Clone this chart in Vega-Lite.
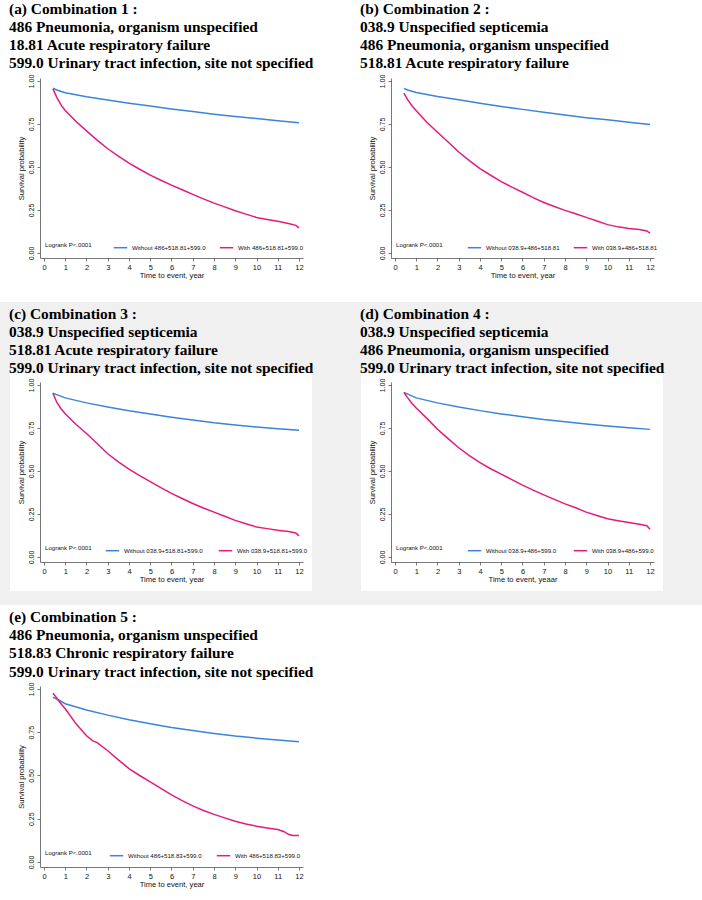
{
  "$schema": "https://vega.github.io/schema/vega-lite/v6.json",
  "background": "#f0f0f0",
  "padding": 0,
  "bounds": "full",
  "spacing": 4,
  "resolve": {"scale": {"x": "independent", "y": "independent", "color": "independent"}, "axis": {"x": "independent", "y": "independent"}, "legend": {"color": "independent"}},
  "config": {
    "view": {"stroke": null},
    "axis": {"labelFont": "Liberation Sans", "titleFont": "Liberation Sans", "titleFontWeight": "normal", "labelColor": "#111", "titleColor": "#111", "domainColor": "#555", "tickColor": "#555", "domainWidth": 0.8, "tickWidth": 0.8, "grid": false, "labelFlush": false, "labelOverlap": false, "tickSize": 3},
    "axisX": {"labelFontSize": 7.5, "titleFontSize": 7.6, "labelPadding": 2.5, "titlePadding": 0.5},
    "axisY": {"labelFontSize": 7, "titleFontSize": 7.6, "labelAngle": 270, "labelAlign": "center", "labelBaseline": "alphabetic", "labelPadding": 3.5, "titlePadding": 2.5},
    "legend": {"orient": "none", "direction": "horizontal", "titleOrient": "left", "labelFont": "Liberation Sans", "titleFont": "Liberation Sans", "labelFontSize": 6.1, "titleFontSize": 6.1, "titleFontWeight": "normal", "labelColor": "#111", "titleColor": "#111", "symbolType": "stroke", "symbolSize": 180, "symbolStrokeWidth": 1.5, "labelOffset": 4, "columnPadding": 11, "padding": 0},
    "title": {"font": "Liberation Serif", "fontSize": 15.4, "fontWeight": "bold", "color": "black", "lineHeight": 18.2, "anchor": "start", "frame": "group", "orient": "top"},
    "line": {"strokeWidth": 1.5}
  },
  "vconcat": [
    {
      "bounds": "flush",
      "spacing": 0,
      "resolve": {"scale": {"x": "independent", "y": "independent", "color": "independent"}, "axis": {"x": "independent", "y": "independent"}, "legend": {"color": "independent"}},
      "hconcat": [
        {
          "width": 351, "height": 302,
          "view": {"fill": "white", "stroke": null},
          "title": {"text": ["(a) Combination 1 :", "486 Pneumonia, organism unspecified", "18.81 Acute respiratory failure", "599.0 Urinary tract infection, site not specified"], "baseline": "alphabetic", "offset": -72.5, "dx": 9, "dy": 11},
          "data": {"values": [
            {"t": 0.42, "s": 0.958, "g": "Without 486+518.81+599.0"},
            {"t": 0.6, "s": 0.948, "g": "Without 486+518.81+599.0"},
            {"t": 1, "s": 0.932, "g": "Without 486+518.81+599.0"},
            {"t": 2, "s": 0.908, "g": "Without 486+518.81+599.0"},
            {"t": 3, "s": 0.89, "g": "Without 486+518.81+599.0"},
            {"t": 4, "s": 0.871, "g": "Without 486+518.81+599.0"},
            {"t": 5, "s": 0.854, "g": "Without 486+518.81+599.0"},
            {"t": 6, "s": 0.837, "g": "Without 486+518.81+599.0"},
            {"t": 7, "s": 0.822, "g": "Without 486+518.81+599.0"},
            {"t": 8, "s": 0.807, "g": "Without 486+518.81+599.0"},
            {"t": 9, "s": 0.794, "g": "Without 486+518.81+599.0"},
            {"t": 10, "s": 0.782, "g": "Without 486+518.81+599.0"},
            {"t": 11, "s": 0.769, "g": "Without 486+518.81+599.0"},
            {"t": 12, "s": 0.757, "g": "Without 486+518.81+599.0"},
            {"t": 0.42, "s": 0.955, "g": "With 486+518.81+599.0"},
            {"t": 0.6, "s": 0.905, "g": "With 486+518.81+599.0"},
            {"t": 0.82, "s": 0.857, "g": "With 486+518.81+599.0"},
            {"t": 1, "s": 0.828, "g": "With 486+518.81+599.0"},
            {"t": 1.5, "s": 0.766, "g": "With 486+518.81+599.0"},
            {"t": 2, "s": 0.71, "g": "With 486+518.81+599.0"},
            {"t": 2.5, "s": 0.656, "g": "With 486+518.81+599.0"},
            {"t": 3, "s": 0.606, "g": "With 486+518.81+599.0"},
            {"t": 3.5, "s": 0.563, "g": "With 486+518.81+599.0"},
            {"t": 4, "s": 0.523, "g": "With 486+518.81+599.0"},
            {"t": 4.5, "s": 0.487, "g": "With 486+518.81+599.0"},
            {"t": 5, "s": 0.453, "g": "With 486+518.81+599.0"},
            {"t": 5.5, "s": 0.423, "g": "With 486+518.81+599.0"},
            {"t": 6, "s": 0.395, "g": "With 486+518.81+599.0"},
            {"t": 6.5, "s": 0.368, "g": "With 486+518.81+599.0"},
            {"t": 7, "s": 0.341, "g": "With 486+518.81+599.0"},
            {"t": 7.5, "s": 0.315, "g": "With 486+518.81+599.0"},
            {"t": 8, "s": 0.29, "g": "With 486+518.81+599.0"},
            {"t": 8.5, "s": 0.268, "g": "With 486+518.81+599.0"},
            {"t": 9, "s": 0.246, "g": "With 486+518.81+599.0"},
            {"t": 9.5, "s": 0.226, "g": "With 486+518.81+599.0"},
            {"t": 10, "s": 0.207, "g": "With 486+518.81+599.0"},
            {"t": 10.5, "s": 0.195, "g": "With 486+518.81+599.0"},
            {"t": 11, "s": 0.184, "g": "With 486+518.81+599.0"},
            {"t": 11.5, "s": 0.172, "g": "With 486+518.81+599.0"},
            {"t": 11.85, "s": 0.161, "g": "With 486+518.81+599.0"},
            {"t": 12, "s": 0.146, "g": "With 486+518.81+599.0"}
          ]},
          "mark": {"type": "line"},
          "encoding": {
            "x": {"field": "t", "type": "quantitative", "scale": {"domain": [-0.188, 12.188], "range": [40, 303], "nice": false, "zero": false}, "axis": {"values": [0,1,2,3,4,5,6,7,8,9,10,11,12], "format": "d", "title": "Time to event, year", "offset": -44}},
            "y": {"field": "s", "type": "quantitative", "scale": {"domain": [-0.029, 1.0174], "range": [258, 78], "nice": false, "zero": false}, "axis": {"values": [0, 0.25, 0.5, 0.75, 1], "format": ".2f", "title": "Survival probability", "offset": -40}},
            "color": {"field": "g", "type": "nominal", "scale": {"domain": ["Without 486+518.81+599.0", "With 486+518.81+599.0"], "range": ["#3a84da", "#e41b7a"]}, "legend": {"title": "Logrank P<.0001", "legendX": 45, "legendY": 240, "titlePadding": 21, "columnPadding": 10}}
          }
        },
        {
          "width": 351, "height": 302,
          "view": {"fill": "white", "stroke": null},
          "title": {"text": ["(b) Combination 2 :", "038.9 Unspecified septicemia", "486 Pneumonia, organism unspecified", "518.81 Acute respiratory failure"], "baseline": "alphabetic", "offset": -72.5, "dx": 9, "dy": 11},
          "data": {"values": [
            {"t": 0.42, "s": 0.957, "g": "Without 038.9+486+518.81"},
            {"t": 0.6, "s": 0.948, "g": "Without 038.9+486+518.81"},
            {"t": 1, "s": 0.933, "g": "Without 038.9+486+518.81"},
            {"t": 2, "s": 0.91, "g": "Without 038.9+486+518.81"},
            {"t": 3, "s": 0.891, "g": "Without 038.9+486+518.81"},
            {"t": 4, "s": 0.871, "g": "Without 038.9+486+518.81"},
            {"t": 5, "s": 0.852, "g": "Without 038.9+486+518.81"},
            {"t": 6, "s": 0.835, "g": "Without 038.9+486+518.81"},
            {"t": 7, "s": 0.818, "g": "Without 038.9+486+518.81"},
            {"t": 8, "s": 0.802, "g": "Without 038.9+486+518.81"},
            {"t": 9, "s": 0.787, "g": "Without 038.9+486+518.81"},
            {"t": 10, "s": 0.774, "g": "Without 038.9+486+518.81"},
            {"t": 11, "s": 0.76, "g": "Without 038.9+486+518.81"},
            {"t": 12, "s": 0.747, "g": "Without 038.9+486+518.81"},
            {"t": 0.42, "s": 0.929, "g": "With 038.9+486+518.81"},
            {"t": 0.6, "s": 0.89, "g": "With 038.9+486+518.81"},
            {"t": 0.8, "s": 0.856, "g": "With 038.9+486+518.81"},
            {"t": 1, "s": 0.827, "g": "With 038.9+486+518.81"},
            {"t": 1.5, "s": 0.76, "g": "With 038.9+486+518.81"},
            {"t": 2, "s": 0.702, "g": "With 038.9+486+518.81"},
            {"t": 2.5, "s": 0.645, "g": "With 038.9+486+518.81"},
            {"t": 3, "s": 0.587, "g": "With 038.9+486+518.81"},
            {"t": 3.5, "s": 0.537, "g": "With 038.9+486+518.81"},
            {"t": 4, "s": 0.491, "g": "With 038.9+486+518.81"},
            {"t": 4.5, "s": 0.452, "g": "With 038.9+486+518.81"},
            {"t": 5, "s": 0.415, "g": "With 038.9+486+518.81"},
            {"t": 5.5, "s": 0.383, "g": "With 038.9+486+518.81"},
            {"t": 6, "s": 0.353, "g": "With 038.9+486+518.81"},
            {"t": 6.5, "s": 0.322, "g": "With 038.9+486+518.81"},
            {"t": 7, "s": 0.294, "g": "With 038.9+486+518.81"},
            {"t": 7.5, "s": 0.27, "g": "With 038.9+486+518.81"},
            {"t": 8, "s": 0.248, "g": "With 038.9+486+518.81"},
            {"t": 8.5, "s": 0.228, "g": "With 038.9+486+518.81"},
            {"t": 9, "s": 0.207, "g": "With 038.9+486+518.81"},
            {"t": 9.5, "s": 0.186, "g": "With 038.9+486+518.81"},
            {"t": 10, "s": 0.165, "g": "With 038.9+486+518.81"},
            {"t": 10.5, "s": 0.152, "g": "With 038.9+486+518.81"},
            {"t": 11, "s": 0.142, "g": "With 038.9+486+518.81"},
            {"t": 11.5, "s": 0.136, "g": "With 038.9+486+518.81"},
            {"t": 11.85, "s": 0.128, "g": "With 038.9+486+518.81"},
            {"t": 12, "s": 0.115, "g": "With 038.9+486+518.81"}
          ]},
          "mark": {"type": "line"},
          "encoding": {
            "x": {"field": "t", "type": "quantitative", "scale": {"domain": [-0.188, 12.188], "range": [40, 303], "nice": false, "zero": false}, "axis": {"values": [0,1,2,3,4,5,6,7,8,9,10,11,12], "format": "d", "title": "Time to event, year", "offset": -44}},
            "y": {"field": "s", "type": "quantitative", "scale": {"domain": [-0.029, 1.0174], "range": [258, 78], "nice": false, "zero": false}, "axis": {"values": [0, 0.25, 0.5, 0.75, 1], "format": ".2f", "title": "Survival probability", "offset": -40}},
            "color": {"field": "g", "type": "nominal", "scale": {"domain": ["Without 038.9+486+518.81", "With 038.9+486+518.81"], "range": ["#3a84da", "#e41b7a"]}, "legend": {"title": "Logrank P<.0001", "legendX": 45, "legendY": 240, "titlePadding": 24, "columnPadding": 10}}
          }
        }
      ]
    },
    {
      "bounds": "flush",
      "spacing": 0,
      "resolve": {"scale": {"x": "independent", "y": "independent", "color": "independent"}, "axis": {"x": "independent", "y": "independent"}, "legend": {"color": "independent"}},
      "hconcat": [
        {
          "width": 10, "height": 228,
          "view": {"fill": "#f0f0f0", "stroke": null},
          "data": {"values": []},
          "mark": {"type": "point"}
        },
        {
          "width": 302, "height": 218,
          "view": {"fill": "white", "stroke": null},
          "title": {"text": ["(c) Combination 3 :", "038.9 Unspecified septicemia", "518.81 Acute respiratory failure", "599.0 Urinary tract infection, site not specified"], "baseline": "alphabetic", "offset": -15.5, "dx": -1},
          "data": {"values": [
            {"t": 0.42, "s": 0.952, "g": "Without 038.9+518.81+599.0"},
            {"t": 0.6, "s": 0.944, "g": "Without 038.9+518.81+599.0"},
            {"t": 1, "s": 0.925, "g": "Without 038.9+518.81+599.0"},
            {"t": 2, "s": 0.896, "g": "Without 038.9+518.81+599.0"},
            {"t": 3, "s": 0.872, "g": "Without 038.9+518.81+599.0"},
            {"t": 4, "s": 0.85, "g": "Without 038.9+518.81+599.0"},
            {"t": 5, "s": 0.831, "g": "Without 038.9+518.81+599.0"},
            {"t": 6, "s": 0.813, "g": "Without 038.9+518.81+599.0"},
            {"t": 7, "s": 0.797, "g": "Without 038.9+518.81+599.0"},
            {"t": 8, "s": 0.781, "g": "Without 038.9+518.81+599.0"},
            {"t": 9, "s": 0.768, "g": "Without 038.9+518.81+599.0"},
            {"t": 10, "s": 0.756, "g": "Without 038.9+518.81+599.0"},
            {"t": 11, "s": 0.746, "g": "Without 038.9+518.81+599.0"},
            {"t": 12, "s": 0.737, "g": "Without 038.9+518.81+599.0"},
            {"t": 0.42, "s": 0.952, "g": "With 038.9+518.81+599.0"},
            {"t": 0.6, "s": 0.9, "g": "With 038.9+518.81+599.0"},
            {"t": 0.8, "s": 0.862, "g": "With 038.9+518.81+599.0"},
            {"t": 1, "s": 0.833, "g": "With 038.9+518.81+599.0"},
            {"t": 1.5, "s": 0.772, "g": "With 038.9+518.81+599.0"},
            {"t": 2, "s": 0.718, "g": "With 038.9+518.81+599.0"},
            {"t": 2.5, "s": 0.66, "g": "With 038.9+518.81+599.0"},
            {"t": 3, "s": 0.6, "g": "With 038.9+518.81+599.0"},
            {"t": 3.5, "s": 0.553, "g": "With 038.9+518.81+599.0"},
            {"t": 4, "s": 0.511, "g": "With 038.9+518.81+599.0"},
            {"t": 4.5, "s": 0.473, "g": "With 038.9+518.81+599.0"},
            {"t": 5, "s": 0.438, "g": "With 038.9+518.81+599.0"},
            {"t": 5.5, "s": 0.403, "g": "With 038.9+518.81+599.0"},
            {"t": 6, "s": 0.37, "g": "With 038.9+518.81+599.0"},
            {"t": 6.5, "s": 0.34, "g": "With 038.9+518.81+599.0"},
            {"t": 7, "s": 0.311, "g": "With 038.9+518.81+599.0"},
            {"t": 7.5, "s": 0.285, "g": "With 038.9+518.81+599.0"},
            {"t": 8, "s": 0.261, "g": "With 038.9+518.81+599.0"},
            {"t": 8.5, "s": 0.237, "g": "With 038.9+518.81+599.0"},
            {"t": 9, "s": 0.213, "g": "With 038.9+518.81+599.0"},
            {"t": 9.5, "s": 0.193, "g": "With 038.9+518.81+599.0"},
            {"t": 10, "s": 0.175, "g": "With 038.9+518.81+599.0"},
            {"t": 10.5, "s": 0.165, "g": "With 038.9+518.81+599.0"},
            {"t": 11, "s": 0.155, "g": "With 038.9+518.81+599.0"},
            {"t": 11.5, "s": 0.148, "g": "With 038.9+518.81+599.0"},
            {"t": 11.85, "s": 0.14, "g": "With 038.9+518.81+599.0"},
            {"t": 12, "s": 0.123, "g": "With 038.9+518.81+599.0"}
          ]},
          "mark": {"type": "line"},
          "encoding": {
            "x": {"field": "t", "type": "quantitative", "scale": {"domain": [-0.188, 12.188], "range": [30, 293], "nice": false, "zero": false}, "axis": {"values": [0,1,2,3,4,5,6,7,8,9,10,11,12], "format": "d", "title": "Time to event, year", "offset": -29}},
            "y": {"field": "s", "type": "quantitative", "scale": {"domain": [-0.029, 1.0174], "range": [189, 9], "nice": false, "zero": false}, "axis": {"values": [0, 0.25, 0.5, 0.75, 1], "format": ".2f", "title": "Survival probability", "offset": -30}},
            "color": {"field": "g", "type": "nominal", "scale": {"domain": ["Without 038.9+518.81+599.0", "With 038.9+518.81+599.0"], "range": ["#3a84da", "#e41b7a"]}, "legend": {"title": "Logrank P<.0001", "legendX": 35, "legendY": 170, "titlePadding": 13, "columnPadding": 12}}
          }
        },
        {
          "width": 49, "height": 228,
          "view": {"fill": "#f0f0f0", "stroke": null},
          "data": {"values": []},
          "mark": {"type": "point"}
        },
        {
          "width": 302, "height": 218,
          "view": {"fill": "white", "stroke": null},
          "title": {"text": ["(d) Combination 4 :", "038.9 Unspecified septicemia", "486 Pneumonia, organism unspecified", "599.0 Urinary tract infection, site not specified"], "baseline": "alphabetic", "offset": -15.5, "dx": -1},
          "data": {"values": [
            {"t": 0.42, "s": 0.956, "g": "Without 038.9+486+599.0"},
            {"t": 0.6, "s": 0.947, "g": "Without 038.9+486+599.0"},
            {"t": 1, "s": 0.925, "g": "Without 038.9+486+599.0"},
            {"t": 2, "s": 0.896, "g": "Without 038.9+486+599.0"},
            {"t": 3, "s": 0.872, "g": "Without 038.9+486+599.0"},
            {"t": 4, "s": 0.851, "g": "Without 038.9+486+599.0"},
            {"t": 5, "s": 0.832, "g": "Without 038.9+486+599.0"},
            {"t": 6, "s": 0.815, "g": "Without 038.9+486+599.0"},
            {"t": 7, "s": 0.799, "g": "Without 038.9+486+599.0"},
            {"t": 8, "s": 0.786, "g": "Without 038.9+486+599.0"},
            {"t": 9, "s": 0.773, "g": "Without 038.9+486+599.0"},
            {"t": 10, "s": 0.761, "g": "Without 038.9+486+599.0"},
            {"t": 11, "s": 0.751, "g": "Without 038.9+486+599.0"},
            {"t": 12, "s": 0.742, "g": "Without 038.9+486+599.0"},
            {"t": 0.42, "s": 0.956, "g": "With 038.9+486+599.0"},
            {"t": 0.6, "s": 0.925, "g": "With 038.9+486+599.0"},
            {"t": 0.8, "s": 0.893, "g": "With 038.9+486+599.0"},
            {"t": 1, "s": 0.866, "g": "With 038.9+486+599.0"},
            {"t": 1.5, "s": 0.806, "g": "With 038.9+486+599.0"},
            {"t": 2, "s": 0.743, "g": "With 038.9+486+599.0"},
            {"t": 2.5, "s": 0.688, "g": "With 038.9+486+599.0"},
            {"t": 3, "s": 0.635, "g": "With 038.9+486+599.0"},
            {"t": 3.5, "s": 0.59, "g": "With 038.9+486+599.0"},
            {"t": 4, "s": 0.549, "g": "With 038.9+486+599.0"},
            {"t": 4.5, "s": 0.513, "g": "With 038.9+486+599.0"},
            {"t": 5, "s": 0.482, "g": "With 038.9+486+599.0"},
            {"t": 5.5, "s": 0.45, "g": "With 038.9+486+599.0"},
            {"t": 6, "s": 0.418, "g": "With 038.9+486+599.0"},
            {"t": 6.5, "s": 0.389, "g": "With 038.9+486+599.0"},
            {"t": 7, "s": 0.361, "g": "With 038.9+486+599.0"},
            {"t": 7.5, "s": 0.335, "g": "With 038.9+486+599.0"},
            {"t": 8, "s": 0.309, "g": "With 038.9+486+599.0"},
            {"t": 8.5, "s": 0.286, "g": "With 038.9+486+599.0"},
            {"t": 9, "s": 0.261, "g": "With 038.9+486+599.0"},
            {"t": 9.5, "s": 0.241, "g": "With 038.9+486+599.0"},
            {"t": 10, "s": 0.223, "g": "With 038.9+486+599.0"},
            {"t": 10.5, "s": 0.211, "g": "With 038.9+486+599.0"},
            {"t": 11, "s": 0.2, "g": "With 038.9+486+599.0"},
            {"t": 11.5, "s": 0.19, "g": "With 038.9+486+599.0"},
            {"t": 11.85, "s": 0.182, "g": "With 038.9+486+599.0"},
            {"t": 12, "s": 0.161, "g": "With 038.9+486+599.0"}
          ]},
          "mark": {"type": "line"},
          "encoding": {
            "x": {"field": "t", "type": "quantitative", "scale": {"domain": [-0.188, 12.188], "range": [30, 293], "nice": false, "zero": false}, "axis": {"values": [0,1,2,3,4,5,6,7,8,9,10,11,12], "format": "d", "title": "Time to event, yeaar", "offset": -29}},
            "y": {"field": "s", "type": "quantitative", "scale": {"domain": [-0.029, 1.0174], "range": [189, 9], "nice": false, "zero": false}, "axis": {"values": [0, 0.25, 0.5, 0.75, 1], "format": ".2f", "title": "Survival probability", "offset": -30}},
            "color": {"field": "g", "type": "nominal", "scale": {"domain": ["Without 038.9+486+599.0", "With 038.9+486+599.0"], "range": ["#3a84da", "#e41b7a"]}, "legend": {"title": "Logrank P<.0001", "legendX": 35, "legendY": 170, "titlePadding": 24, "columnPadding": 13}}
          }
        }
      ]
    },
    {
      "bounds": "flush",
      "spacing": 0,
      "resolve": {"scale": {"x": "independent", "y": "independent", "color": "independent"}, "axis": {"x": "independent", "y": "independent"}, "legend": {"color": "independent"}},
      "hconcat": [
        {
          "width": 351, "height": 293,
          "view": {"fill": "white", "stroke": null},
          "title": {"text": ["(e) Combination 5 :", "486 Pneumonia, organism unspecified", "518.83 Chronic respiratory failure", "599.0 Urinary tract infection, site not specified"], "baseline": "alphabetic", "offset": -75, "dx": 9, "dy": 12},
          "data": {"values": [
            {"t": 0.42, "s": 0.952, "g": "Without 486+518.83+599.0"},
            {"t": 0.6, "s": 0.942, "g": "Without 486+518.83+599.0"},
            {"t": 1, "s": 0.915, "g": "Without 486+518.83+599.0"},
            {"t": 2, "s": 0.879, "g": "Without 486+518.83+599.0"},
            {"t": 3, "s": 0.849, "g": "Without 486+518.83+599.0"},
            {"t": 4, "s": 0.822, "g": "Without 486+518.83+599.0"},
            {"t": 5, "s": 0.799, "g": "Without 486+518.83+599.0"},
            {"t": 6, "s": 0.778, "g": "Without 486+518.83+599.0"},
            {"t": 7, "s": 0.76, "g": "Without 486+518.83+599.0"},
            {"t": 8, "s": 0.743, "g": "Without 486+518.83+599.0"},
            {"t": 9, "s": 0.728, "g": "Without 486+518.83+599.0"},
            {"t": 10, "s": 0.716, "g": "Without 486+518.83+599.0"},
            {"t": 11, "s": 0.705, "g": "Without 486+518.83+599.0"},
            {"t": 12, "s": 0.695, "g": "Without 486+518.83+599.0"},
            {"t": 0.42, "s": 0.975, "g": "With 486+518.83+599.0"},
            {"t": 0.6, "s": 0.948, "g": "With 486+518.83+599.0"},
            {"t": 0.8, "s": 0.915, "g": "With 486+518.83+599.0"},
            {"t": 1, "s": 0.886, "g": "With 486+518.83+599.0"},
            {"t": 1.5, "s": 0.8, "g": "With 486+518.83+599.0"},
            {"t": 2, "s": 0.73, "g": "With 486+518.83+599.0"},
            {"t": 2.3, "s": 0.7, "g": "With 486+518.83+599.0"},
            {"t": 2.5, "s": 0.69, "g": "With 486+518.83+599.0"},
            {"t": 3, "s": 0.643, "g": "With 486+518.83+599.0"},
            {"t": 3.5, "s": 0.59, "g": "With 486+518.83+599.0"},
            {"t": 4, "s": 0.54, "g": "With 486+518.83+599.0"},
            {"t": 4.5, "s": 0.5, "g": "With 486+518.83+599.0"},
            {"t": 5, "s": 0.463, "g": "With 486+518.83+599.0"},
            {"t": 5.5, "s": 0.425, "g": "With 486+518.83+599.0"},
            {"t": 6, "s": 0.388, "g": "With 486+518.83+599.0"},
            {"t": 6.5, "s": 0.355, "g": "With 486+518.83+599.0"},
            {"t": 7, "s": 0.324, "g": "With 486+518.83+599.0"},
            {"t": 7.5, "s": 0.298, "g": "With 486+518.83+599.0"},
            {"t": 8, "s": 0.275, "g": "With 486+518.83+599.0"},
            {"t": 8.5, "s": 0.255, "g": "With 486+518.83+599.0"},
            {"t": 9, "s": 0.236, "g": "With 486+518.83+599.0"},
            {"t": 9.5, "s": 0.22, "g": "With 486+518.83+599.0"},
            {"t": 10, "s": 0.207, "g": "With 486+518.83+599.0"},
            {"t": 10.5, "s": 0.197, "g": "With 486+518.83+599.0"},
            {"t": 11, "s": 0.188, "g": "With 486+518.83+599.0"},
            {"t": 11.3, "s": 0.175, "g": "With 486+518.83+599.0"},
            {"t": 11.5, "s": 0.16, "g": "With 486+518.83+599.0"},
            {"t": 11.7, "s": 0.153, "g": "With 486+518.83+599.0"},
            {"t": 12, "s": 0.153, "g": "With 486+518.83+599.0"}
          ]},
          "mark": {"type": "line"},
          "encoding": {
            "x": {"field": "t", "type": "quantitative", "scale": {"domain": [-0.188, 12.188], "range": [40, 303], "nice": false, "zero": false}, "axis": {"values": [0,1,2,3,4,5,6,7,8,9,10,11,12], "format": "d", "title": "Time to event, year", "offset": -31}},
            "y": {"field": "s", "type": "quantitative", "scale": {"domain": [-0.029, 1.0174], "range": [262, 81], "nice": false, "zero": false}, "axis": {"values": [0, 0.25, 0.5, 0.75, 1], "format": ".2f", "title": "Survival probability", "offset": -40}},
            "color": {"field": "g", "type": "nominal", "scale": {"domain": ["Without 486+518.83+599.0", "With 486+518.83+599.0"], "range": ["#3a84da", "#e41b7a"]}, "legend": {"title": "Logrank P<.0001", "legendX": 45, "legendY": 243, "titlePadding": 17, "columnPadding": 11}}
          }
        },
        {
          "width": 351, "height": 293,
          "view": {"fill": "white", "stroke": null},
          "data": {"values": []},
          "mark": {"type": "point"}
        }
      ]
    }
  ]
}
